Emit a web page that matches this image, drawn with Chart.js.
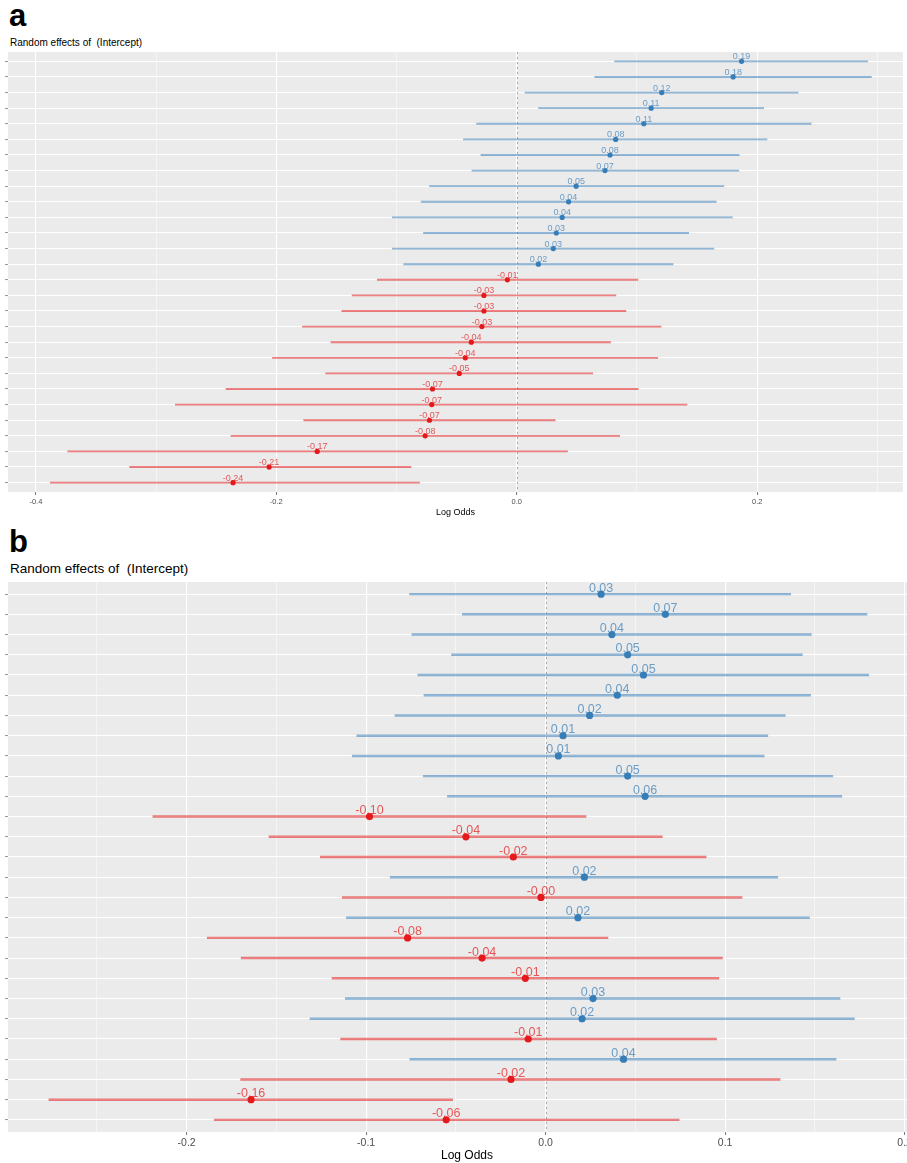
<!DOCTYPE html>
<html>
<head>
<meta charset="utf-8">
<script src="https://cdn.jsdelivr.net/npm/chart.js@4/dist/chart.umd.min.js"></script>
<style>
  html, body { margin: 0; padding: 0; background: #fff; overflow: hidden; width: 907px; height: 1163px; }
  .tag { position: absolute; left: 9px; font: bold 31px "Liberation Sans", Arial, sans-serif; color: #000; }
  .ttl { position: absolute; left: 10px; font-family: "Liberation Sans", Arial, sans-serif; color: #000; white-space: pre; }
  canvas { position: absolute; left: 0; }
</style>
</head>
<body>
<div class="tag" style="top:-2px">a</div>
<div class="ttl" style="top:37px;font-size:10px">Random effects of  (Intercept)</div>
<canvas id="chartA" width="907" height="520" style="top:0"></canvas>
<div class="tag" style="top:524px">b</div>
<div class="ttl" style="top:561px;font-size:13.5px">Random effects of  (Intercept)</div>
<canvas id="chartB" width="930" height="603" style="top:560px"></canvas>

<script>
// panel a: estimates and interval ends, top row first
const estA = [0.187, 0.180, 0.1206, 0.1118, 0.1057, 0.0823, 0.0776, 0.0734, 0.0494, 0.0431,
  0.0378, 0.0329, 0.0304, 0.018, -0.0078, -0.0273, -0.0273, -0.029, -0.0378, -0.0428,
  -0.0478, -0.0701, -0.0707, -0.0726, -0.0762, -0.166, -0.206, -0.236];
const loA = [0.0814, 0.0649, 0.0069, 0.0182, -0.0334, -0.0444, -0.0298, -0.0373, -0.0726, -0.0795,
  -0.1035, -0.0776, -0.1035, -0.094, -0.116, -0.137, -0.1455, -0.1783, -0.1546, -0.2032,
  -0.159, -0.2418, -0.284, -0.1772, -0.2377, -0.3735, -0.322, -0.388];
const hiA = [0.292, 0.295, 0.234, 0.2054, 0.2449, 0.2082, 0.185, 0.1847, 0.1723, 0.1659,
  0.1794, 0.143, 0.164, 0.130, 0.1008, 0.0825, 0.0908, 0.120, 0.078, 0.1173,
  0.0632, 0.101, 0.1416, 0.032, 0.0856, 0.0422, -0.088, -0.0809];
const ticksA = [-0.4, -0.3, -0.2, -0.1, 0, 0.1, 0.2, 0.3];
const majorA = [-0.4, -0.2, 0, 0.2];
const majorLabelsA = ["-0.4", "-0.2", "0.0", "0.2"];

// panel b
const estB = [0.0309, 0.0667, 0.0369, 0.0457, 0.0545, 0.0399, 0.0245, 0.0097, 0.0071, 0.0457,
  0.0554, -0.0981, -0.0444, -0.018, 0.0216, -0.0026, 0.018, -0.0769, -0.0354, -0.0113,
  0.0264, 0.0203, -0.0097, 0.0434, -0.0193, -0.1641, -0.0554];
const loB = [-0.0758, -0.0464, -0.0745, -0.0524, -0.0712, -0.0678, -0.0839, -0.1052, -0.1077, -0.0682,
  -0.0547, -0.2188, -0.1541, -0.1255, -0.0866, -0.1133, -0.111, -0.1885, -0.1696, -0.119,
  -0.1116, -0.1313, -0.1142, -0.0756, -0.1699, -0.2767, -0.1846];
const hiB = [0.1365, 0.179, 0.148, 0.143, 0.180, 0.1476, 0.1335, 0.1238, 0.1217, 0.160,
  0.165, 0.0225, 0.065, 0.0894, 0.1293, 0.1094, 0.147, 0.0347, 0.0985, 0.0965,
  0.164, 0.172, 0.0952, 0.1618, 0.1306, -0.0518, 0.0744];
const ticksB = [-0.25, -0.2, -0.15, -0.1, -0.05, 0, 0.05, 0.1, 0.15, 0.2];
const majorB = [-0.2, -0.1, 0, 0.1, 0.2];
const majorLabelsB = ["-0.2", "-0.1", "0.0", "0.1", "0.2"];

const FONT = '"Liberation Sans", Arial, sans-serif';
const red = "rgb(228, 26, 28)";
const blue = "rgb(55, 126, 184)";
const redLine = "rgba(228, 26, 28, 0.55)";
const blueLine = "rgba(55, 126, 184, 0.55)";
const redText = "rgba(228, 26, 28, 0.72)";
const blueText = "rgba(55, 126, 184, 0.72)";

const panelBg = {
  id: "panelBg",
  beforeDraw(chart) {
    const { ctx, chartArea: a } = chart;
    ctx.save();
    ctx.fillStyle = "#ebebeb";
    ctx.fillRect(a.left, a.top, a.right - a.left, a.bottom - a.top);
    ctx.restore();
  },
  beforeDatasetsDraw(chart) {
    // dotted zero line
    const { ctx, chartArea: a, scales } = chart;
    const x = Math.round(scales.x.getPixelForValue(0)) + 0.5;
    ctx.save();
    ctx.strokeStyle = "#a8a8a8";
    ctx.lineWidth = 1;
    ctx.setLineDash([2, 3]);
    ctx.beginPath();
    ctx.moveTo(x, a.top);
    ctx.lineTo(x, a.bottom);
    ctx.stroke();
    ctx.restore();
  },
  afterDatasetsDraw(chart, args, opts) {
    const { ctx } = chart;
    const meta = chart.getDatasetMeta(1);
    const est = chart.data.datasets[1].data;
    ctx.save();
    ctx.font = opts.size + "px " + FONT;
    ctx.textAlign = "center";
    ctx.textBaseline = "alphabetic";
    meta.data.forEach((pt, i) => {
      const v = est[i].x;
      ctx.fillStyle = v < 0 ? redText : blueText;
      ctx.fillText(v.toFixed(2), pt.x, pt.y - opts.lift);
    });
    ctx.restore();
  }
};

function isOneOf(list, v) {
  return list.some((m) => Math.abs(m - v) < 1e-9);
}

function tickIsMajor(c, majors) {
  return !!(c && c.tick && isOneOf(majors, c.tick.value));
}

function makeChart(id, est, lo, hi, xTicks, majors, majorLabels, look) {
  const rows = est.map((_, i) => i + 1);
  return new Chart(document.getElementById(id), {
    type: "bar",
    data: {
      datasets: [
        {
          type: "bar",
          indexAxis: "y",
          data: rows.map((r, i) => ({ x: [lo[i], hi[i]], y: r })),
          backgroundColor: est.map((v) => (v < 0 ? redLine : blueLine)),
          barThickness: look.line,
          borderWidth: 0,
        },
        {
          type: "scatter",
          data: rows.map((r, i) => ({ x: est[i], y: r })),
          backgroundColor: est.map((v) => (v < 0 ? red : blue)),
          pointRadius: look.dot,
          pointBorderWidth: 0,
        },
      ],
    },
    options: {
      responsive: false,
      animation: false,
      events: [],
      layout: { padding: { top: look.padTop, left: 0, right: 0, bottom: 0 } },
      plugins: {
        legend: { display: false },
        tooltip: { enabled: false },
        panelBg: { size: look.labelSize, lift: look.lift },
      },
      scales: {
        x: {
          type: "linear",
          offset: false,
          min: look.min,
          max: look.max,
          afterBuildTicks: (s) => {
            s.ticks = xTicks.map((v) => ({ value: v }));
          },
          afterFit: (s) => {
            s.height = look.axisH;
            s.paddingLeft = 0;
            s.paddingRight = 0;
          },
          border: { display: false },
          grid: {
            offset: false,
            color: "#ffffff",
            lineWidth: (c) => (tickIsMajor(c, majors) ? 1.1 : 0.5),
            tickLength: 3,
            tickWidth: 0.8,
            tickColor: (c) => (tickIsMajor(c, majors) ? "#555" : "rgba(0,0,0,0)"),
          },
          ticks: {
            autoSkip: false,
            maxRotation: 0,
            padding: 2,
            color: "#4d4d4d",
            font: { size: look.tickSize, family: FONT },
            callback: (v) => {
              const k = majors.findIndex((m) => Math.abs(m - v) < 1e-9);
              return k < 0 ? "" : majorLabels[k];
            },
          },
          title: {
            display: true,
            text: "Log Odds",
            color: "#000",
            font: { size: look.titleSize, family: FONT },
            padding: { top: 0, bottom: look.titlePad },
          },
        },
        y: {
          type: "linear",
          offset: false,
          reverse: true,
          min: 0.4,
          max: est.length + 0.6,
          afterBuildTicks: (s) => {
            s.ticks = rows.map((v) => ({ value: v }));
          },
          afterFit: (s) => {
            s.width = 8;
            s.paddingTop = 0;
            s.paddingBottom = 0;
          },
          border: { display: false },
          grid: { offset: false, color: "#ffffff", lineWidth: 1.1, tickLength: 3, tickWidth: 0.8, tickColor: "#777" },
          ticks: { autoSkip: false, padding: 0, font: { size: 6 }, callback: () => "" },
        },
      },
    },
    plugins: [panelBg],
  });
}

makeChart("chartA", estA, loA, hiA, ticksA, majorA, majorLabelsA, {
  min: -0.4232, max: 0.3213, padTop: 52, axisH: 28,
  line: 1.2, dot: 2.6, labelSize: 9, lift: 2,
  tickSize: 7.5, titleSize: 9, titlePad: 2,
});

makeChart("chartB", estB, loB, hiB, ticksB, majorB, majorLabelsB, {
  min: -0.2995, max: 0.2119, padTop: 22, axisH: 31,
  line: 1.8, dot: 3.6, labelSize: 12.5, lift: 2.5,
  tickSize: 10.5, titleSize: 12, titlePad: 0,
});
</script>
</body>
</html>
